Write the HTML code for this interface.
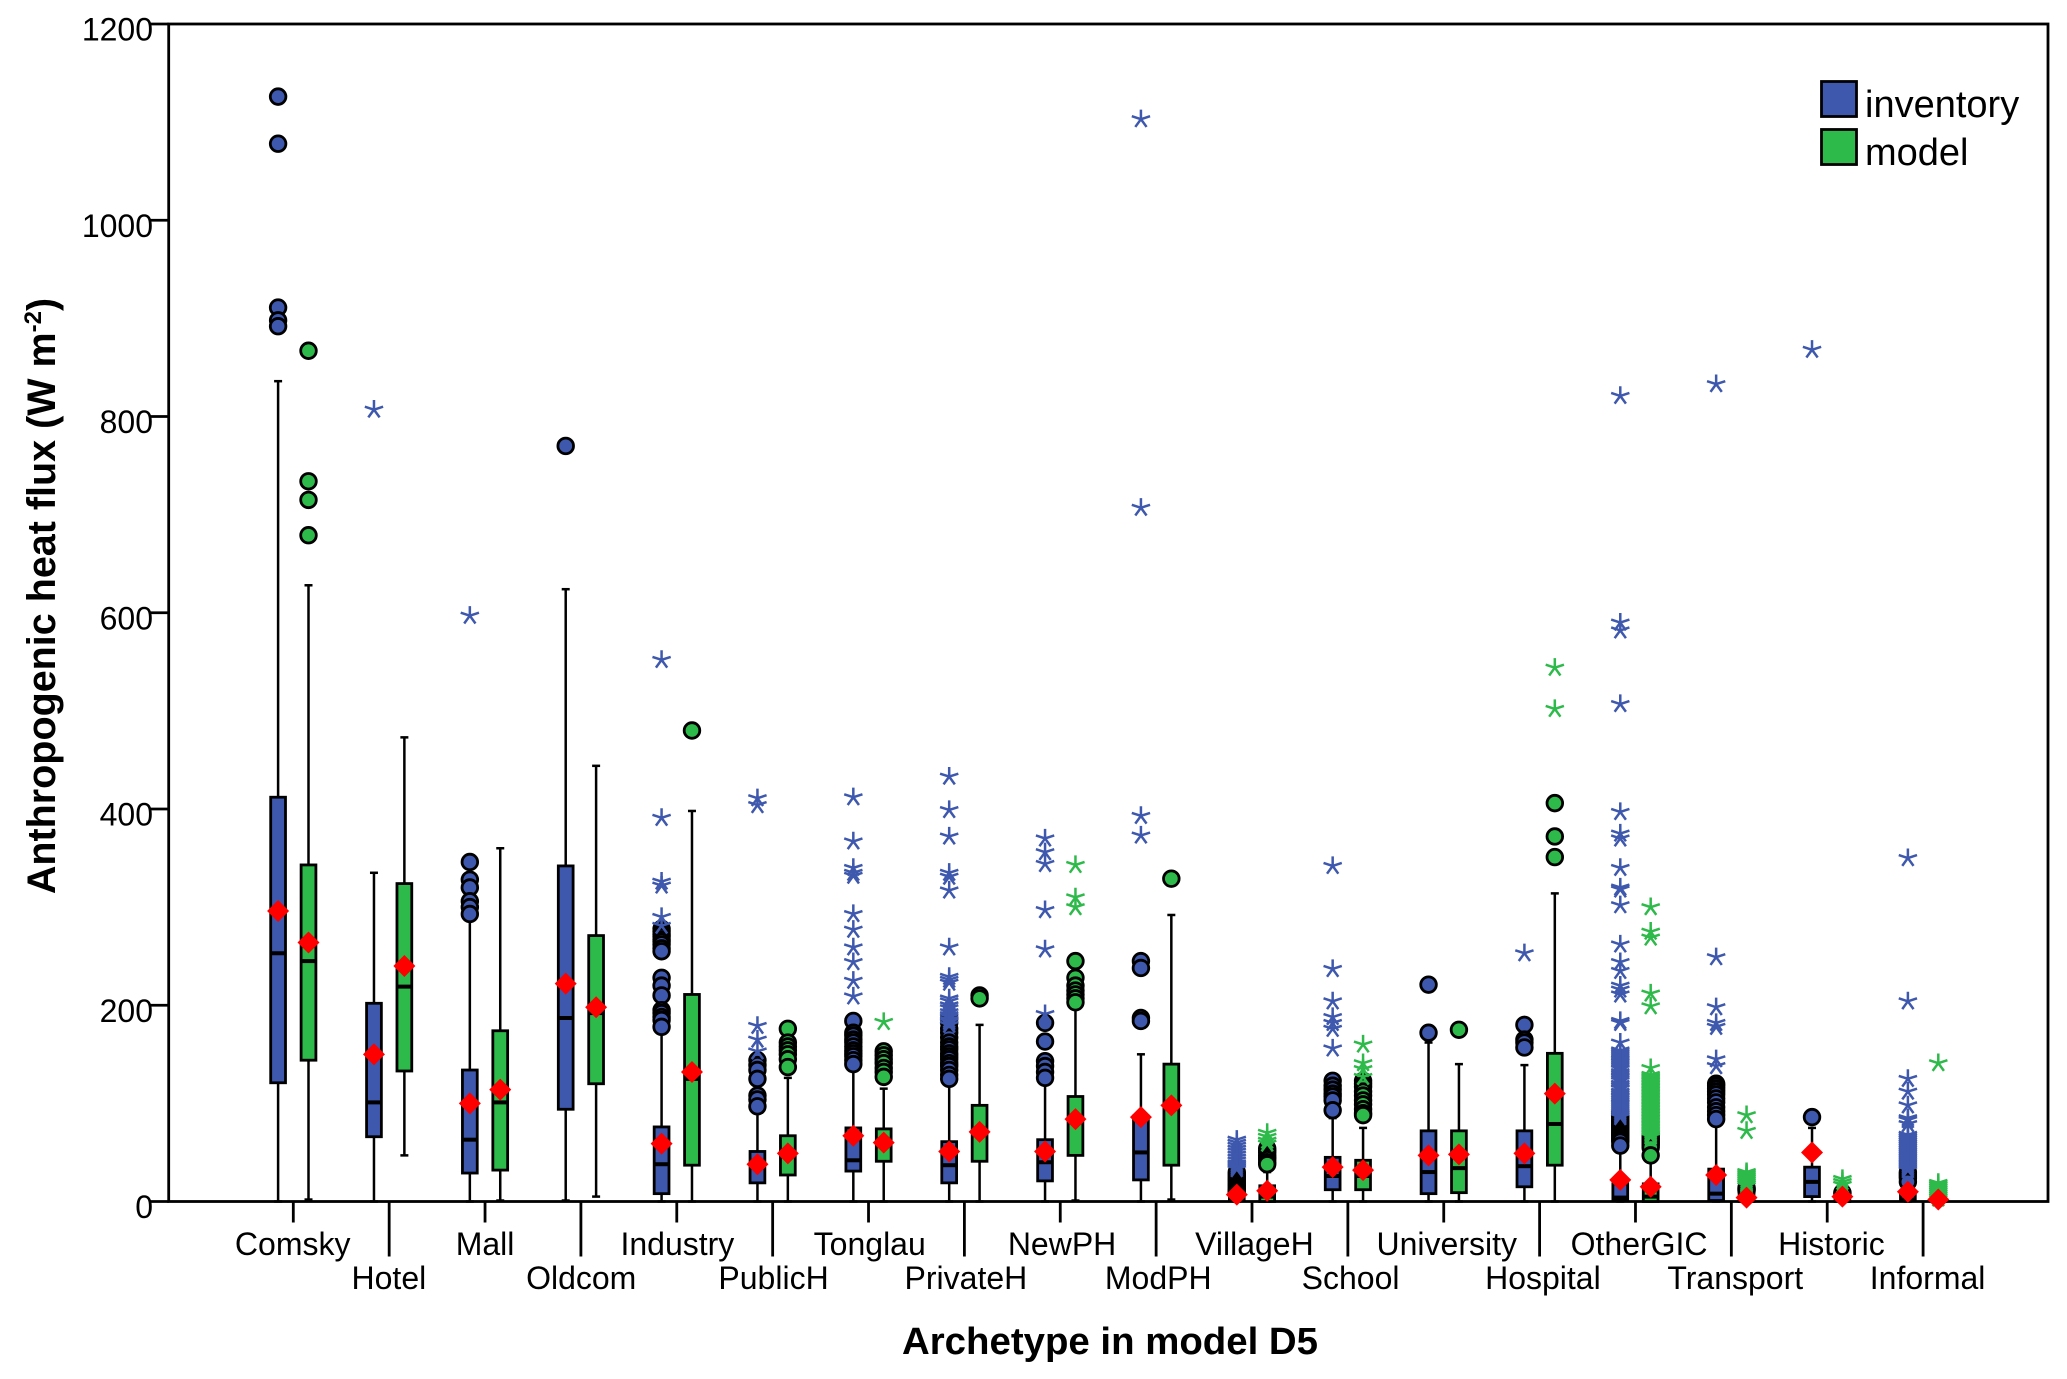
<!DOCTYPE html>
<html lang="en">
<head>
<meta charset="utf-8">
<title>Anthropogenic heat flux by archetype</title>
<style>
html,body{margin:0;padding:0;background:#fff}
svg{display:block}
text{font-family:"Liberation Sans",Arial,sans-serif;fill:#000}
</style>
</head>
<body>
<svg id="chart" xmlns="http://www.w3.org/2000/svg" width="2067" height="1379" viewBox="0 0 2067 1379">
  <rect x="0" y="0" width="2067" height="1379" fill="#fff"/>
  <g id="axes"></g>
  <g id="marks"></g>
  <text transform="translate(55,596) rotate(-90)" text-anchor="middle" font-size="39.5" font-weight="700">Anthropogenic heat flux (W m<tspan font-size="24" dy="-14">-2</tspan><tspan dy="14">)</tspan></text>
  <text x="1110" y="1354" text-anchor="middle" font-size="38.4" font-weight="700">Archetype in model D5</text>
  <g>
    <rect x="1821.5" y="81.5" width="35" height="35" fill="#3e58ad" stroke="#000" stroke-width="2.8"/>
    <text x="1865" y="117" font-size="38">inventory</text>
    <rect x="1821.5" y="129.5" width="35" height="35" fill="#2eba4a" stroke="#000" stroke-width="2.8"/>
    <text x="1865" y="165" font-size="38">model</text>
  </g>
</svg>
<script>
const categories = ["Comsky","Hotel","Mall","Oldcom","Industry","PublicH","Tonglau","PrivateH","NewPH","ModPH","VillageH","School","University","Hospital","OtherGIC","Transport","Historic","Informal"];
const yTicks = [0,200,400,600,800,1000,1200];

const inventoryQ1 = [121,66,29,94,8,19,31,19,21,22,2,12,8,15,1,1,5,1];
const inventoryMedian = [253,101,63,187,38,35,42,37,40,50,5,26,30,36,4,8,20,2];
const inventoryQ3 = [412,202,134,342,76,51,75,61,63,87,10,45,72,72,18,33,35,8];
const inventoryLow = [0,0,0,1,0,0,0,0,0,0,0,0,0,0,0,0,0,0];
const inventoryHigh = [836,335,290,624,175,97,135,122,125,150,25,85,162,139,55,85,75,15];
const inventoryMean = [296,150,100,222,59,38,67,51,51,86,7,35,47,49,22,27,50,10];
const inventoryOutliers = [
  [1126,1078,911,898,892],[],[346,328,320,306,300,293],[770],
  [278,275,272,270,267,265,262,258,255,228,220,210,195,192,188,185,178],
  [144,139,134,125,108,104,97],
  [184,172,169,165,162,158,154,151,148,144,140],
  [187,182,176,172,167,162,158,155,151,148,145,141,138,134,129,125],
  [182,163,143,138,132,126],
  [245,238,187,184],
  [30,28,26,24,22,20,18,16,14,12,11,10,9,8],
  [123,118,114,110,107,103,93],
  [221,172],
  [180,165,162,157],
  [91,89.5,88,86.5,85,83.5,82,80.5,79,77.5,76,74.5,73,71.5,70,68.5,67,65.5,64,62.5,61,57],
  [120,118,115,112,109,105,101,96,92,88,84],
  [86],
  [30,28,26,24,20]
];
const inventoryExtremes = [
  [],[807],[597],[],
  [552,391,326,322,290,281],
  [411,404,179,165,153],
  [412,367,340,335,332,293,277,259,244,225,209],
  [433,399,372,335,331,317,259,229,226,223,207,204,200,197,193,190,188,185,183,180],
  [370,356,344,297,257,191],
  [1103,707,393,373],
  [63,60,57,54,51,48,45,42,39,37,35,33],
  [342,237,204,188,182,176,156],
  [],
  [253],
  [821,590,582,507,397,375,370,340,320,318,302,262,244,235,220,216,211,184,182,162,154,152,150,148,146,145,143,142,140,138,136,135,132,130,128,127,125,123,120,118,116,115,112,110,108,107,105,103,101,100,98,96,94,92,90,88,86],
  [833,249,198,182,178,145,138],
  [868],
  [350,204,125,112,98,85,83,79,68,66,64,62,60,58,56,54,52,50,48,46,44,42,40,38,36,34,32]
];

const modelQ1 = [144,133,32,120,37,27,41,41,47,37,0,12,9,37,0,0,0,0];
const modelMedian = [245,219,101,192,125,50,59,70,84,98,5,26,34,79,5,3,1,1];
const modelQ3 = [343,324,174,271,211,67,74,98,107,140,16,42,72,151,18,15,3,5];
const modelLow = [2,47,1,5,0,0,0,0,1,2,0,0,0,0,0,0,0,0];
const modelHigh = [628,473,360,444,398,126,115,180,200,292,30,75,140,314,40,10,3,4];
const modelMean = [264,240,114,198,132,49,60,71,84,98,11,32,48,110,15,4,5,2];
const modelOutliers = [
  [867,734,715,679],[],[],[],[480],
  [176,162,158,154,150,145,137],
  [153,149,145,141,136,132,127],
  [210,207],
  [245,228,220,215,211,207,203],
  [329],
  [54,52,50,47,45,43,40,38],
  [123,120,117,112,108,103,99,94,90,88],
  [175],
  [406,372,351],
  [69,67.5,66,64.5,63,61.5,60,58.5,57,55,47],
  [14,13,12,11],
  [9,8],
  []
];
const modelExtremes = [
  [],[],[],[],[],[],[183],[],[343,310,300],[],[70,66,62,59],[160,141,135,127],[],[544,502],
  [300,275,269,212,199,136,129,127.5,126,124.5,123,121.5,120,118.5,117,115.5,114,112.5,111,109.5,108,106.5,105,103.5,102,100.5,99,97.5,96,94.5,93,91.5,90,88.5,87,85.5,84,82.5,81,79.5,78,76.5,75,73.5,72,70.5,69,67.5,66],
  [88,72,30,28,26,24,22,20,18,16],
  [23,20,17],
  [141,19,17,15,13,11,9,7,5,3]
];

const SVG_NS = "http://www.w3.org/2000/svg";
const plot = {left:168.7, right:2048, top:24, bottom:1201.5, maxValue:1200, firstTick:293.3, band:95.87, offset:15.2};
const BLUE = "#3e58ad", GREEN = "#2eba4a", RED = "#fe0000";

function yScale(v){ return plot.bottom - (v / plot.maxValue) * (plot.bottom - plot.top); }
function bandCenter(i){ return plot.firstTick + plot.band * i; }
function make(parent, tag){ const el = document.createElementNS(SVG_NS, tag); parent.appendChild(el); return el; }
function setLine(el, x1, y1, x2, y2, width, color){
  el.setAttribute("x1", x1); el.setAttribute("y1", y1); el.setAttribute("x2", x2); el.setAttribute("y2", y2);
  el.setAttribute("stroke", color); el.setAttribute("stroke-width", width);
}

const axes = document.getElementById("axes");
const marks = document.getElementById("marks");

const frame = make(axes, "rect");


frame.setAttribute("x", plot.left);
frame.setAttribute("y", plot.top);
frame.setAttribute("width", plot.right - plot.left);
frame.setAttribute("height", plot.bottom - plot.top);
frame.setAttribute("fill", "none");
frame.setAttribute("stroke", "#000");
frame.setAttribute("stroke-width", "2.8");

yTicks.forEach(function(t){
  const y = yScale(t);
  const tick = make(axes, "line");
  
  
  setLine(tick, 149, y, plot.left, y, 2.8, "#000");
  const label = make(axes, "text");
  
  
  label.setAttribute("x", 153);
  label.setAttribute("y", y + 16.5);
  label.setAttribute("text-anchor", "end");
  label.setAttribute("font-size", "32");
  label.textContent = String(t);
});

categories.forEach(function(name, i){
  const cx = bandCenter(i);
  const longRow = i % 2 === 1;
  const tick = make(axes, "line");
  
  
  setLine(tick, cx, plot.bottom, cx, plot.bottom + (longRow ? 55 : 21), 2.8, "#000");
  const label = make(axes, "text");
  
  
  label.setAttribute("x", cx - 0.6 + 0.3 * i);
  label.setAttribute("y", longRow ? 1289 : 1255);
  label.setAttribute("text-anchor", "middle");
  label.setAttribute("font-size", "32");
  label.textContent = name;
});

function drawGroup(i, key, color, sign, q1, med, q3, low, high, outliers, extremes){
  const cx = bandCenter(i) + sign * plot.offset;
  const prefix = categories[i].toLowerCase() + "-" + key;
  const g = make(marks, "g");
  
  

  const whisker = make(g, "line");
  
  
  setLine(whisker, cx, yScale(high[i]), cx, yScale(low[i]), 2.5, "#000");

  const capHigh = make(g, "line");
  
  
  setLine(capHigh, cx - 4, yScale(high[i]), cx + 4, yScale(high[i]), 2.5, "#000");

  const capLow = make(g, "line");
  
  
  setLine(capLow, cx - 4, yScale(low[i]), cx + 4, yScale(low[i]), 2.5, "#000");

  const box = make(g, "rect");
  
  
  box.setAttribute("x", cx - 7.4);
  box.setAttribute("y", yScale(q3[i]));
  box.setAttribute("width", 14.8);
  box.setAttribute("height", yScale(q1[i]) - yScale(q3[i]));
  box.setAttribute("fill", color);
  box.setAttribute("stroke", "#000");
  box.setAttribute("stroke-width", "2.8");

  const median = make(g, "line");
  
  
  setLine(median, cx - 7.4, yScale(med[i]), cx + 7.4, yScale(med[i]), 4, "#000");

  outliers[i].forEach(function(v){
    const c = make(g, "circle");
    
    
    c.setAttribute("cx", cx);
    c.setAttribute("cy", yScale(v));
    c.setAttribute("r", 7.8);
    c.setAttribute("fill", color);
    c.setAttribute("stroke", "#000");
    c.setAttribute("stroke-width", "2.8");
  });

  extremes[i].forEach(function(v){
    const star = make(g, "path");
    
    
    const cy = yScale(v);
    let d = "";
    for (let k = 0; k < 5; k++) {
      const a = -Math.PI / 2 + k * 2 * Math.PI / 5;
      d += "M" + cx + " " + cy + "L" + (cx + 9.6 * Math.cos(a)) + " " + (cy + 9.6 * Math.sin(a));
    }
    star.setAttribute("d", d);
    star.setAttribute("fill", "none");
    star.setAttribute("stroke", color);
    star.setAttribute("stroke-width", "2.5");
  });
}

function drawMean(i, key, sign, mean){
  const cx = bandCenter(i) + sign * plot.offset;
  const cy = yScale(mean[i]);
  const d = make(marks, "polygon");
  
  
  d.setAttribute("points", (cx - 11) + "," + cy + " " + cx + "," + (cy - 11) + " " + (cx + 11) + "," + cy + " " + cx + "," + (cy + 11));
  d.setAttribute("fill", RED);
}

categories.forEach(function(name, i){
  drawGroup(i, "inventory", BLUE, -1, inventoryQ1, inventoryMedian, inventoryQ3, inventoryLow, inventoryHigh, inventoryOutliers, inventoryExtremes);
  drawGroup(i, "model", GREEN, 1, modelQ1, modelMedian, modelQ3, modelLow, modelHigh, modelOutliers, modelExtremes);
});
categories.forEach(function(name, i){
  drawMean(i, "inventory", -1, inventoryMean);
  drawMean(i, "model", 1, modelMean);
});
</script>
</body>
</html>
